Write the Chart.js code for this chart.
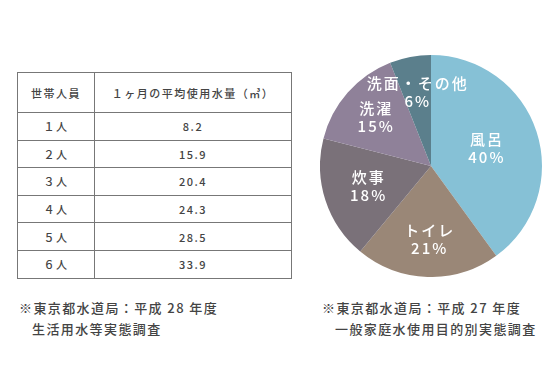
<!DOCTYPE html>
<html><head><meta charset="utf-8">
<script src="https://cdn.jsdelivr.net/npm/chart.js@4"></script>
<style>
html,body{margin:0;padding:0;background:#fff;width:560px;height:380px;overflow:hidden;font-family:"Noto Sans CJK JP","Noto Sans",sans-serif;color:#444;}
#tbl{position:absolute;left:17px;top:72px;border-collapse:collapse;width:275px;font-size:11px;letter-spacing:1.5px;}
#tbl td,#tbl th{border:1px solid #777;text-align:center;padding:0;font-weight:500;}
#tbl th{height:39px;}
#tbl td{height:26.6px;}
#tbl td:first-child,#tbl th:first-child{width:76px;}
.note{position:absolute;font-size:13px;line-height:21px;letter-spacing:1.4px;color:#444;font-weight:500;}
#chartBox{position:absolute;left:320px;top:55px;width:222px;height:222px;}
</style></head>
<body>
<table id="tbl"><thead><tr><th id="h0"></th><th id="h1"></th></tr></thead><tbody id="tb"></tbody></table>
<div class="note" style="left:19px;top:297px;">※東京都水道局：平成 28 年度<br>&nbsp;&nbsp;&nbsp;生活用水等実態調査</div>
<div class="note" style="left:322px;top:297px;">※東京都水道局：平成 27 年度<br>&nbsp;&nbsp;&nbsp;一般家庭水使用目的別実態調査</div>
<div id="chartBox"><canvas id="c" width="222" height="222"></canvas></div>
<script>
// Table data
const tableHeaders = ["世帯人員", "１ヶ月の平均使用水量（㎥）"];
const householdSizes = ["１人", "２人", "３人", "４人", "５人", "６人"];
const monthlyUsage = [8.2, 15.9, 20.4, 24.3, 28.5, 33.9];

// Pie data
const useCategories = [["風呂"], ["トイレ"], ["炊事"], ["洗濯"], ["洗面・その他"]];
const useShares = [40, 21, 18, 15, 6];

document.getElementById('h0').textContent = tableHeaders[0];
document.getElementById('h1').textContent = tableHeaders[1];
const tb = document.getElementById('tb');
householdSizes.forEach((h, i) => {
  const tr = document.createElement('tr');
  const a = document.createElement('td'); a.textContent = h;
  const b = document.createElement('td'); b.textContent = monthlyUsage[i].toFixed(1);
  tr.appendChild(a); tr.appendChild(b); tb.appendChild(tr);
});

const sliceColors = ["#86c1d6", "#9a8777", "#7a7179", "#8f8199", "#5b7f8c"];
const labelRadius = [0.52, 0.66, 0.6, 0.67, 0.68];

const labelPlugin = {
  id: 'sliceLabels',
  afterDatasetsDraw(chart) {
    const ctx = chart.ctx;
    const meta = chart.getDatasetMeta(0);
    ctx.save();
    ctx.fillStyle = '#ffffff';
    ctx.textAlign = 'center';
    ctx.textBaseline = 'middle';
    ctx.font = '500 15px "Noto Sans CJK JP", sans-serif';
    if ('letterSpacing' in ctx) ctx.letterSpacing = '2px';
    meta.data.forEach((arc, i) => {
      const mid = (arc.startAngle + arc.endAngle) / 2;
      const r = arc.outerRadius * labelRadius[i];
      const x = arc.x + Math.cos(mid) * r + 1;
      const y = arc.y + Math.sin(mid) * r;
      const lines = useCategories[i].concat([useShares[i] + '%']);
      ctx.fillText(lines[0], x, y - 9);
      ctx.fillText(lines[1], x, y + 9);
    });
    ctx.restore();
  }
};

new Chart(document.getElementById('c'), {
  type: 'pie',
  data: {
    labels: useCategories.map(l => l.join('')),
    datasets: [{ data: useShares, backgroundColor: sliceColors, borderWidth: 0 }]
  },
  options: {
    responsive: false,
    animation: false,
    layout: { padding: 0 },
    plugins: { legend: { display: false }, tooltip: { enabled: false } }
  },
  plugins: [labelPlugin]
});
</script>
</body></html>
